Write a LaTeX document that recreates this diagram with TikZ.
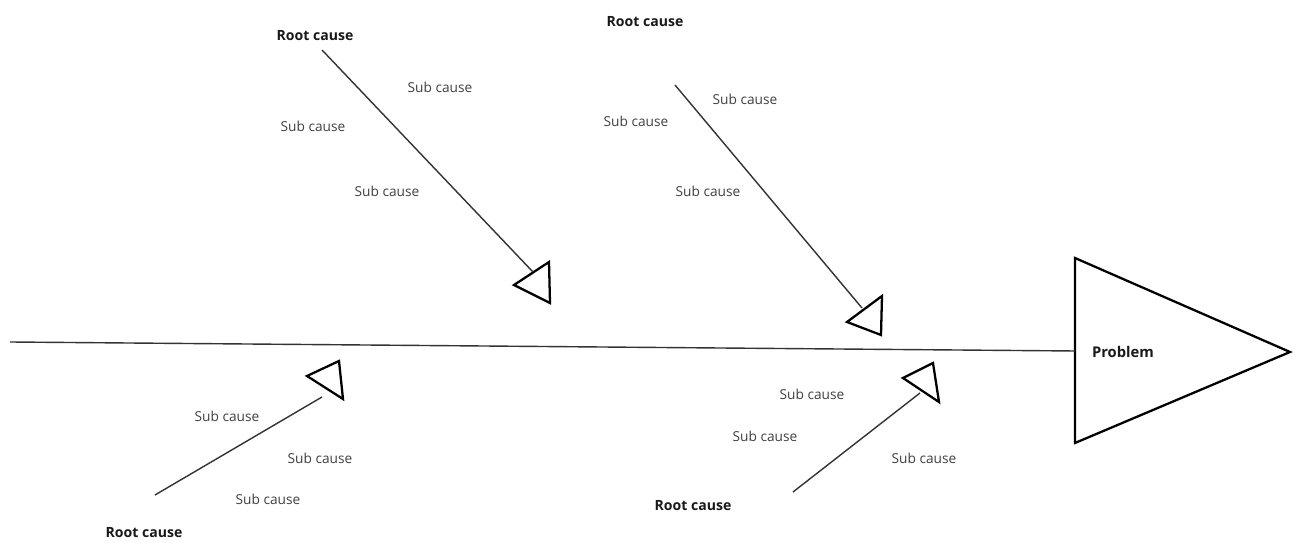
\documentclass[tikz,border=0pt]{standalone}
\usepackage{fontspec}
\setmainfont{Open Sans}
\begin{document}
\begin{tikzpicture}[x=0.02cm, y=-0.02cm,
    every node/.style={inner sep=1pt},
    root/.style={font=\fontsize{8}{9.6}\selectfont\bfseries, text=black!90},
    sub/.style={font=\fontsize{7.8}{9.4}\selectfont, text=black!75},
    bone/.style={draw=black!80, line width=0.8pt},
    head/.style={draw=black, line width=1.3pt, line join=miter}
]
\useasboundingbox (0,0) rectangle (1303,543);

% spine and problem
\coordinate (tail) at (10,342);
\coordinate (P1) at (1075,258);
\coordinate (P2) at (1290,352);
\coordinate (P3) at (1075,443);
\coordinate (Pin) at (1075,351);
\draw[head] (P1) -- (P2) -- (P3) -- cycle;
\node[root, font=\fontsize{8.4}{10}\selectfont\bfseries] (problem) at (1123,352) {Problem};
\draw[bone] (tail) -- (Pin);

% (1)
\node[root] (R1) at (315,36) {Root cause};
\node[sub] (S11) at (440,87) {Sub cause};
\node[sub] (S12) at (313,126) {Sub cause};
\node[sub] (S13) at (387,191) {Sub cause};
\coordinate (r1) at (322,50);
\coordinate (e1) at (533,272);
\draw[head] (549,262) -- (550,303) -- (514,285) -- cycle;
\draw[bone] (r1) -- (e1);

% (2)
\node[root] (R2) at (645,22) {Root cause};
\node[sub] (S21) at (745,99) {Sub cause};
\node[sub] (S22) at (636,121) {Sub cause};
\node[sub] (S23) at (708,191) {Sub cause};
\coordinate (r2) at (675,85);
\coordinate (e2) at (862,308);
\draw[head] (882,296) -- (881,335) -- (847,322) -- cycle;
\draw[bone] (r2) -- (e2);

% (3)
\node[root] (R3) at (144,533) {Root cause};
\node[sub] (S31) at (227,416) {Sub cause};
\node[sub] (S32) at (320,458) {Sub cause};
\node[sub] (S33) at (268,499) {Sub cause};
\coordinate (r3) at (155,495);
\coordinate (e3) at (322,397);
\draw[head] (339,361) -- (343,399) -- (307,376) -- cycle;
\draw[bone] (r3) -- (e3);

% (4)
\node[root] (R4) at (693,506) {Root cause};
\node[sub] (S41) at (812,394) {Sub cause};
\node[sub] (S42) at (765,436) {Sub cause};
\node[sub] (S43) at (924,458) {Sub cause};
\coordinate (r4) at (793,492);
\coordinate (e4) at (920,393);
\draw[head] (933,363) -- (939,402) -- (903,378) -- cycle;
\draw[bone] (r4) -- (e4);

\end{tikzpicture}
\end{document}
